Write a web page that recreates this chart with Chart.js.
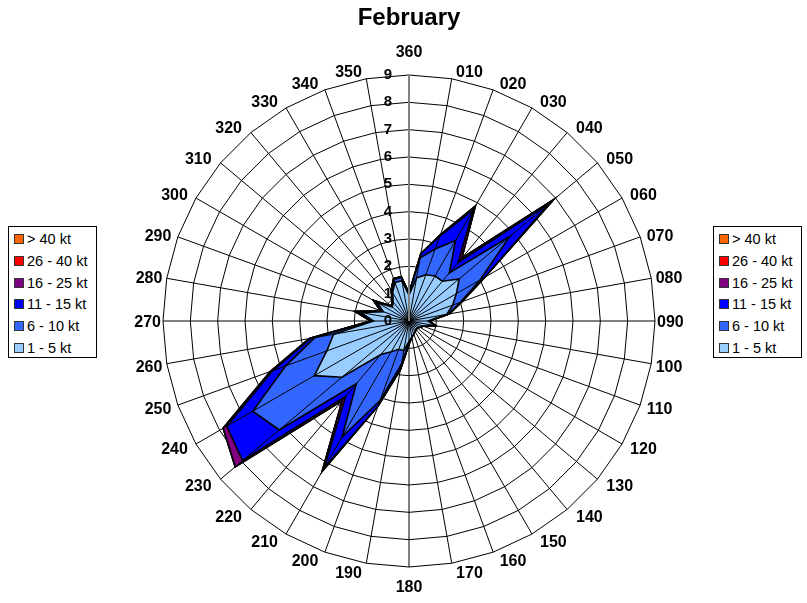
<!DOCTYPE html>
<html>
<head>
<meta charset="utf-8">
<script src="https://cdn.jsdelivr.net/npm/chart.js@4.4.1/dist/chart.umd.min.js"></script>
<style>
  body { margin: 0; background: #fff; }
  #wrap { position: relative; width: 807px; height: 603px; }
  .legend {
    position: absolute; top: 226px; width: 87px; height: 130px;
    border: 1px solid #000; background: #fff;
    font: 14.5px "Liberation Sans", Arial, sans-serif; color: #000;
  }
  .legend div { position: absolute; left: 18px; height: 16px; line-height: 16px; white-space: nowrap; }
  .legend span {
    position: absolute; left: -13px; top: 3px; width: 8px; height: 8px;
    border: 1px solid #333;
  }
</style>
</head>
<body>
<div id="wrap">
  <canvas id="rose"></canvas>
  <div class="legend" id="legLeft" style="left:8px"></div>
  <div class="legend" id="legRight" style="left:713px"></div>
</div>
<script>
// directions, 360 at top, clockwise
const directions = ["360","010","020","030","040","050","060","070","080","090","100","110",
  "120","130","140","150","160","170","180","190","200","210","220","230",
  "240","250","260","270","280","290","300","310","320","330","340","350"];

// frequency of each speed band per direction
const kt1_5 = [0.95,1.6,1.8,1.9,1.9,2.4,2.0,1.7,1.4,0.7,0.95,0.55,
  0.45,0.4,0.4,0.45,0.5,0.6,0.75,1.1,1.1,1.3,1.6,3.2,
  4.0,3.2,2.8,1.3,1.8,1.0,1.35,0.8,0.9,1.2,1.5,1.5];
const kt6_10 = [0.05,0.75,1.0,1.5,0.4,2.4,1.0,0.3,0.05,0.02,0.02,0,
  0,0,0,0,0,0,0.05,0.5,2.0,3.6,1.4,3.0,
  2.6,1.6,0.7,0.05,0.15,0.05,0.1,0.02,0.02,0.05,0.12,0.12];
const kt11_15 = [0.02,0.15,0.5,1.3,0.5,1.9,0.2,0.05,0.05,0.02,0.01,0,
  0,0,0,0,0,0,0.05,0.2,0.2,1.3,0.6,1.75,
  1.1,0.5,0.15,0.05,0.05,0.05,0.05,0.03,0.03,0.05,0.03,0.03];
const kt16_25 = [0,0,0.05,0.15,0.2,0.2,0,0,0,0,0,0,
  0,0,0,0,0,0,0,0,0,0.15,0.2,0.35,
  0.15,0.1,0.05,0,0,0,0,0,0,0,0,0];
const kt26_40 = new Array(36).fill(0);
const kt40plus = new Array(36).fill(0);

const bandNames = ["1 - 5 kt","6 - 10 kt","11 - 15 kt","16 - 25 kt","26 - 40 kt","> 40 kt"];
const bandColors = ["#99CCFF","#3366FF","#0000FF","#800080","#FF0000","#FF6600"];
const bands = [kt1_5, kt6_10, kt11_15, kt16_25, kt26_40, kt40plus];
const ringTicks = [0,1,2,3,4,5,6,7,8,9];

const FONT = "'Liberation Sans', Arial, sans-serif";

// cumulative radii so each band sits on top of the slower ones
let running = new Array(36).fill(0);
const datasets = bands.map((b, k) => {
  running = running.map((v, i) => v + b[i]);
  return {
    label: bandNames[k],
    data: running.slice(),
    backgroundColor: bandColors[k],
    borderColor: "#000",
    borderWidth: 1.6,
    fill: "origin",
    pointRadius: 0,
    tension: 0
  };
});

// spokes over the fills, value labels left of the 360 line, direction labels
const overlay = {
  id: "overlay",
  afterDatasetsDraw(chart) {
    const s = chart.scales.r;
    const ctx = chart.ctx;
    const R = s.drawingArea;
    ctx.save();
    for (let i = directions.length - 1; i >= 0; i--) {
      const p = s.getPointPosition(i, R);
      ctx.beginPath();
      ctx.moveTo(s.xCenter, s.yCenter);
      ctx.lineTo(p.x, p.y);
      ctx.strokeStyle = i === 0 ? "#808080" : "#000";
      ctx.lineWidth = i === 0 ? 2 : 1;
      ctx.stroke();
    }
    ctx.fillStyle = "#000";
    ctx.font = "bold 15px " + FONT;
    ctx.textAlign = "right";
    ctx.textBaseline = "middle";
    ringTicks.forEach(v => {
      ctx.fillText(String(v), s.xCenter - 17, s.yCenter - s.getDistanceFromCenterForValue(v));
    });

    // direction labels sit beside the ring, like the spreadsheet does it
    ctx.font = "bold 16px " + FONT;
    directions.forEach((lab, i) => {
      const p = s.getPointPosition(i, R);
      const th = i * Math.PI / 18;
      if (i === 0) {
        ctx.textAlign = "center";
        ctx.fillText(lab, p.x, p.y - 22);
      } else if (i === 18) {
        ctx.textAlign = "center";
        ctx.fillText(lab, p.x, p.y + 21);
      } else {
        const gap = 2 + 7 * Math.abs(Math.sin(2 * th));
        const y = p.y - 8 * Math.cos(th) + 2;
        if (i < 18) {
          ctx.textAlign = "left";
          ctx.fillText(lab, p.x + gap, y);
        } else {
          ctx.textAlign = "right";
          ctx.fillText(lab, p.x - gap, y);
        }
      }
    });
    ctx.restore();
  }
};

new Chart(document.getElementById("rose"), {
  type: "radar",
  data: { labels: directions, datasets: datasets },
  options: {
    responsive: true,
    maintainAspectRatio: false,
    animation: false,
    layout: { padding: { left: 11, right: 0, top: 0, bottom: 35 } },
    plugins: {
      legend: { display: false },
      tooltip: { enabled: false },
      title: {
        display: true,
        text: "February",
        color: "#000",
        font: { family: FONT, size: 24, weight: "bold" },
        padding: { top: 4, bottom: 42.2 }
      }
    },
    scales: {
      r: {
        min: 0,
        max: 9,
        ticks: { display: false, stepSize: 1 },
        grid: { color: "#000", lineWidth: 1 },
        angleLines: { display: false },
        pointLabels: { display: false }
      }
    }
  },
  plugins: [overlay]
});

// same legend on both sides, fastest band first
function buildLegend(id) {
  const box = document.getElementById(id);
  for (let k = bandNames.length - 1; k >= 0; k--) {
    const row = document.createElement("div");
    row.style.top = (4 + (bandNames.length - 1 - k) * 21.8) + "px";
    row.innerHTML = `<span style="background:${bandColors[k]}"></span>${bandNames[k]}`;
    box.appendChild(row);
  }
}
buildLegend("legLeft");
buildLegend("legRight");
</script>
</body>
</html>
